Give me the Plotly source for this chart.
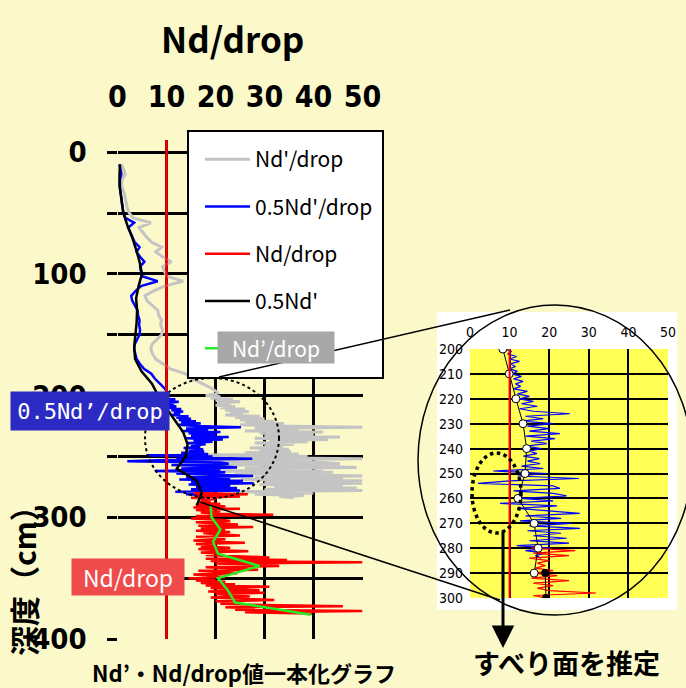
import plotly.graph_objects as go

W, H = 686, 688


def px(x):
    return x / W


def py(y):
    return 1 - y / H


# ---------------- data ----------------
# sampling depths (cm) of the Nd'/drop profiles
depth_upper = [10, 14, 18, 22, 26, 30, 34, 38, 42, 46, 50, 54, 58, 62, 66, 70,
               74, 78, 82, 86, 90, 94, 98, 102, 106, 110, 114, 118, 122, 126,
               130, 134, 138, 142, 146, 150, 154, 158, 162, 166, 170, 174, 178,
               182, 186, 190, 194, 198]
blue_upper = [0.4, 0.6, 0.8, 0.5, 0.4, 0.5, 0.7, 0.8, 0.9, 1.0, 1.2, 1.6, 3.4,
              2.2, 2.6, 3.0, 3.5, 4.5, 3.9, 4.6, 5.5, 4.6, 4.8, 5.0, 8.2, 4.8,
              3.7, 2.8, 3.0, 3.5, 4.1, 4.2, 4.5, 4.4, 4.6, 4.5, 4.0, 3.5, 3.4,
              3.6, 3.9, 4.6, 5.4, 6.9, 7.6, 8.6, 9.6, 10.3]
gray_upper = [0.8, 1.2, 1.6, 1.0, 0.8, 1.0, 1.4, 1.6, 1.8, 2.0, 2.4, 3.2, 6.8,
              4.4, 5.2, 6.0, 7.0, 9.0, 7.8, 9.2, 11.0, 9.2, 9.6, 10.0, 13.4,
              9.6, 7.4, 5.6, 6.0, 7.0, 8.2, 8.4, 9.0, 8.8, 9.2, 9.0, 8.0, 7.0,
              6.8, 7.2, 7.8, 9.2, 10.8, 13.8, 15.2, 17.2, 19.2, 20.6]

depth_lower = list(range(200, 285))
blue_lower = [9.0, 10.5, 9.5, 11.8, 10.0, 12.5, 10.2, 11.5, 10.0, 12.0,
              10.5, 13.0, 11.0, 13.4, 11.5, 12.8, 11.0, 14.5, 12.0, 15.0,
              12.5, 16.0, 13.0, 17.0, 12.5, 16.0, 25.2, 14.0, 18.5, 13.0,
              21.0, 14.5, 20.0, 15.0, 22.7, 14.0, 21.5, 15.5, 19.4, 14.0,
              18.0, 15.0, 16.9, 13.5, 17.5, 14.5, 17.7, 13.0, 18.5, 5.9,
              19.4, 12.0, 27.5, 10.0, 2.0, 21.0, 22.7, 11.0, 21.0, 24.4,
              13.0, 21.0, 7.6, 22.0, 12.0, 19.0, 27.7, 14.0, 23.0, 12.6,
              25.6, 15.0, 27.8, 14.5, 23.0, 16.0, 24.4, 15.0, 25.0, 11.8,
              20.0, 14.0, 19.0, 16.5, 18.0]
gray_lower = [18.0, 21.0, 19.0, 23.6, 20.0, 25.0, 20.4, 23.0, 20.0, 24.0,
              21.0, 26.0, 22.0, 26.8, 23.0, 25.6, 22.0, 29.0, 24.0, 30.0,
              25.0, 32.0, 26.0, 34.0, 25.0, 32.0, 50.0, 28.0, 37.0, 26.0,
              42.0, 29.0, 40.0, 30.0, 45.4, 28.0, 43.0, 31.0, 38.8, 28.0,
              36.0, 30.0, 33.8, 27.0, 35.0, 29.0, 35.4, 26.0, 37.0, 11.8,
              38.8, 24.0, 50.0, 20.0, 4.0, 42.0, 45.4, 22.0, 42.0, 48.8,
              26.0, 42.0, 15.2, 44.0, 24.0, 38.0, 50.0, 28.0, 46.0, 25.2,
              50.0, 30.0, 50.0, 29.0, 46.0, 32.0, 48.8, 30.0, 50.0, 23.6,
              40.0, 28.0, 38.0, 33.0, 36.0]

nd_depth = depth_upper + depth_lower
half_nd_drop = blue_upper + blue_lower      # 0.5Nd'/drop
nd_prime_drop = gray_upper + gray_lower     # Nd'/drop

# Nd/drop (measured below ~280 cm)
red_depth = list(range(280, 380))
nd_drop = [15.5, 26.6, 16.0, 25.0, 15.0, 20.0, 17.0, 19.0, 16.5, 21.0,
           16.0, 22.0, 15.5, 25.0, 16.0, 21.0, 17.0, 20.0, 31.8, 16.0,
           19.5, 15.0, 21.0, 23.0, 16.0, 21.0, 24.6, 16.5, 27.7, 17.0,
           22.0, 16.0, 23.0, 17.5, 20.0, 25.0, 16.0, 20.5, 22.0, 15.5,
           19.0, 26.0, 16.0, 20.0, 17.0, 23.0, 16.5, 21.0, 26.7, 17.0,
           21.0, 18.0, 24.0, 31.0, 18.0, 34.6, 19.0, 50.0, 20.0, 30.0,
           33.0, 18.0, 24.0, 28.7, 16.5, 21.0, 24.4, 15.5, 19.0, 22.0,
           14.5, 20.0, 16.0, 22.0, 17.0, 24.0, 18.0, 31.0, 19.0, 24.0,
           29.0, 18.5, 30.0, 20.0, 23.0, 27.0, 19.0, 24.0, 32.0, 20.0,
           25.0, 21.0, 30.0, 46.0, 22.0, 28.0, 24.0, 50.0, 26.0, 39.7]

# 0.5Nd' (10 cm averages)
avg_depth = [10, 20, 30, 40, 50, 60, 70, 80, 90, 100, 110, 120, 130, 140, 150,
             160, 170, 180, 190, 200, 210, 220, 230, 240, 250, 260, 270, 280, 290]
half_nd = [0.5, 0.4, 0.5, 0.8, 1.2, 2.0, 3.0, 3.8, 4.5, 5.0, 4.3, 3.8, 4.0, 3.9,
           3.6, 3.4, 3.6, 4.9, 7.0, 8.3, 9.9, 11.6, 13.4, 14.3, 13.9, 12.1,
           16.2, 17.2, 16.2]

# Nd/drop (10 cm averages, green)
nd_avg_depth = [290, 300, 310, 320, 330, 340, 350, 360, 370, 380]
nd_avg = [19.0, 19.2, 21.0, 19.5, 20.5, 29.0, 20.5, 22.5, 24.0, 39.5]

threshold = 10
x_ticks = [0, 10, 20, 30, 40, 50]
y_ticks_main = [0, 50, 100, 150, 200, 250, 300, 350, 400]
y_labels_main = ["0", "", "100", "", "200", "", "300", "", "400"]
y_ticks_inset = [200, 210, 220, 230, 240, 250, 260, 270, 280, 290, 300]

# ---------------- style ----------------
BG = "#FBF9CA"
NUM = "Liberation Sans Narrow, DejaVu Sans Condensed, Noto Sans CJK JP, sans-serif"
JP = "Noto Sans CJK JP, sans-serif"


def note(text, x, y, size, family=JP, color="black", **kw):
    return dict(text=text, x=px(x), y=py(y), xref="paper", yref="paper",
                xanchor="center", yanchor="middle", showarrow=False,
                font=dict(family=family, size=size, color=color), **kw)


fig = go.Figure()

# main chart
fig.add_trace(go.Scatter(x=nd_prime_drop, y=nd_depth, mode="lines", name="Nd'/drop",
                         legendgroup="a", line=dict(color="#C4C4C4", width=3)))
fig.add_trace(go.Scatter(x=half_nd_drop, y=nd_depth, mode="lines", name="0.5Nd'/drop",
                         legendgroup="b", line=dict(color="#0000FF", width=2.5)))
fig.add_trace(go.Scatter(x=nd_drop, y=red_depth, mode="lines", name="Nd/drop",
                         legendgroup="c", line=dict(color="#FF0000", width=2.5)))
fig.add_trace(go.Scatter(x=half_nd, y=avg_depth, mode="lines", name="0.5Nd'",
                         legendgroup="d", line=dict(color="#000000", width=2.5)))
fig.add_trace(go.Scatter(x=nd_avg, y=nd_avg_depth, mode="lines", name=" ",
                         legendgroup="e", line=dict(color="#22EE22", width=2.5)))

# inset (200-300 cm)
fig.add_trace(go.Scatter(x=half_nd_drop, y=nd_depth, mode="lines", xaxis="x2", yaxis="y2",
                         showlegend=False, line=dict(color="#0000FF", width=1.2)))
fig.add_trace(go.Scatter(x=nd_drop, y=red_depth, mode="lines", xaxis="x2", yaxis="y2",
                         showlegend=False, line=dict(color="#FF0000", width=1.2)))
fig.add_trace(go.Scatter(x=half_nd, y=avg_depth, mode="lines+markers", xaxis="x2", yaxis="y2",
                         showlegend=False, line=dict(color="#000000", width=1),
                         marker=dict(size=8, color="white", line=dict(color="black", width=1))))
fig.add_trace(go.Scatter(x=nd_avg, y=nd_avg_depth, mode="lines+markers", xaxis="x2", yaxis="y2",
                         showlegend=False, line=dict(color="#000000", width=1),
                         marker=dict(size=8, color="black")))

shapes = [
    # inset white frame and yellow plot area
    dict(type="rect", xref="paper", yref="paper", x0=px(437), x1=px(677), y0=py(610), y1=py(312),
         fillcolor="white", line=dict(width=0), layer="below"),
    dict(type="rect", xref="paper", yref="paper", x0=px(470), x1=px(668), y0=py(598), y1=py(349),
         fillcolor="#FFFF55", line=dict(width=0), layer="below"),
    # threshold lines
    dict(type="line", xref="x", yref="y domain", x0=threshold, x1=threshold, y0=0, y1=1,
         line=dict(color="#FF0000", width=2.5)),
    dict(type="line", xref="x2", yref="y2 domain", x0=threshold, x1=threshold, y0=0, y1=1,
         line=dict(color="#FF0000", width=2)),
    # legend box
    dict(type="rect", xref="paper", yref="paper", x0=px(188), x1=px(383), y0=py(378), y1=py(131),
         fillcolor="white", line=dict(color="black", width=2), layer="above"),
    # dotted circle in main chart
    dict(type="circle", xref="paper", yref="paper", x0=px(145), x1=px(279), y0=py(498), y1=py(378),
         line=dict(color="black", width=2, dash="dot"), layer="above"),
    # connector lines
    dict(type="line", xref="paper", yref="paper", x0=px(219), y0=py(377), x1=px(510), y1=py(310),
         line=dict(color="black", width=1.5)),
    dict(type="line", xref="paper", yref="paper", x0=px(200), y0=py(502), x1=px(500), y1=py(600),
         line=dict(color="black", width=1.5)),
    # big ellipse around inset
    dict(type="circle", xref="paper", yref="paper", x0=px(418), x1=px(692), y0=py(615), y1=py(305),
         line=dict(color="black", width=1.5), layer="above"),
    # dotted ellipse in inset
    dict(type="circle", xref="paper", yref="paper", x0=px(472), x1=px(521), y0=py(533), y1=py(453),
         line=dict(color="black", width=3.5, dash="dot"), layer="above"),
]

annotations = [
    note("<b>Nd/drop</b>", 233, 38, 35),
    note("<b>深度（cm）</b>", 23, 574, 30, textangle=-90),
    note("<b>Nd’・Nd/drop値一本化グラフ</b>", 244, 672, 22),
    note("<b>すべり面を推定</b>", 566, 662, 27),
    note("0.5Nd’/drop", 90, 411, 22, family="DejaVu Sans Mono, monospace", color="white",
         bgcolor="#2B2BC4", width=156, height=36),
    note("Nd/drop", 128, 577, 23, color="white", bgcolor="#F04B4B", width=110, height=34),
    note("Nd’/drop", 276, 347.5, 21, color="white", bgcolor="#A8A8A8", width=114, height=29),
    dict(text="", x=px(503), y=py(648), xref="paper", yref="paper", showarrow=True,
         ax=0, ay=-118, arrowhead=2, arrowsize=1.5, arrowwidth=3, arrowcolor="black"),
]

fig.update_layout(
    width=W, height=H,
    margin=dict(l=0, r=0, t=0, b=0, pad=0, autoexpand=False),
    paper_bgcolor=BG,
    plot_bgcolor="rgba(0,0,0,0)",
    shapes=shapes,
    annotations=annotations,
    showlegend=True,
    legend=dict(x=px(200), y=py(139), xanchor="left", yanchor="top",
                bgcolor="rgba(0,0,0,0)", borderwidth=0, tracegroupgap=17, itemwidth=45,
                font=dict(family=JP, size=21, color="black")),
    xaxis=dict(domain=[px(117.5), px(362.5)], range=[0, 50], side="top", anchor="y",
               tickvals=x_ticks, showgrid=True, gridcolor="black", gridwidth=2.5,
               zeroline=False, ticks="", ticklabelstandoff=26,
               tickfont=dict(family=NUM, size=30, color="black", weight="bold")),
    yaxis=dict(domain=[py(639), py(140)], range=[400, -10], anchor="x",
               tickvals=y_ticks_main, ticktext=y_labels_main, showgrid=True,
               gridcolor="black", gridwidth=2.5, zeroline=False, ticks="outside",
               ticklen=10, tickwidth=2.5, tickcolor="black", ticklabelstandoff=14,
               tickfont=dict(family=NUM, size=29, color="black", weight="bold")),
    xaxis2=dict(domain=[px(470), px(668)], range=[0, 50], side="top", anchor="y2",
                tickvals=x_ticks, showgrid=True, gridcolor="black", gridwidth=1.5,
                zeroline=False, ticks="", ticklabelstandoff=8,
                tickfont=dict(family=NUM, size=14, color="black")),
    yaxis2=dict(domain=[py(598), py(349)], range=[300, 200], anchor="x2",
                tickvals=y_ticks_inset, showgrid=True, gridcolor="black", gridwidth=1.5,
                zeroline=False, ticks="", ticklabelstandoff=6,
                tickfont=dict(family=NUM, size=14, color="black")),
)

fig.write_html(
    "out.html",
    config={"displayModeBar": False},
    post_script="document.body.style.margin='0';document.body.style.overflow='hidden';",
)
